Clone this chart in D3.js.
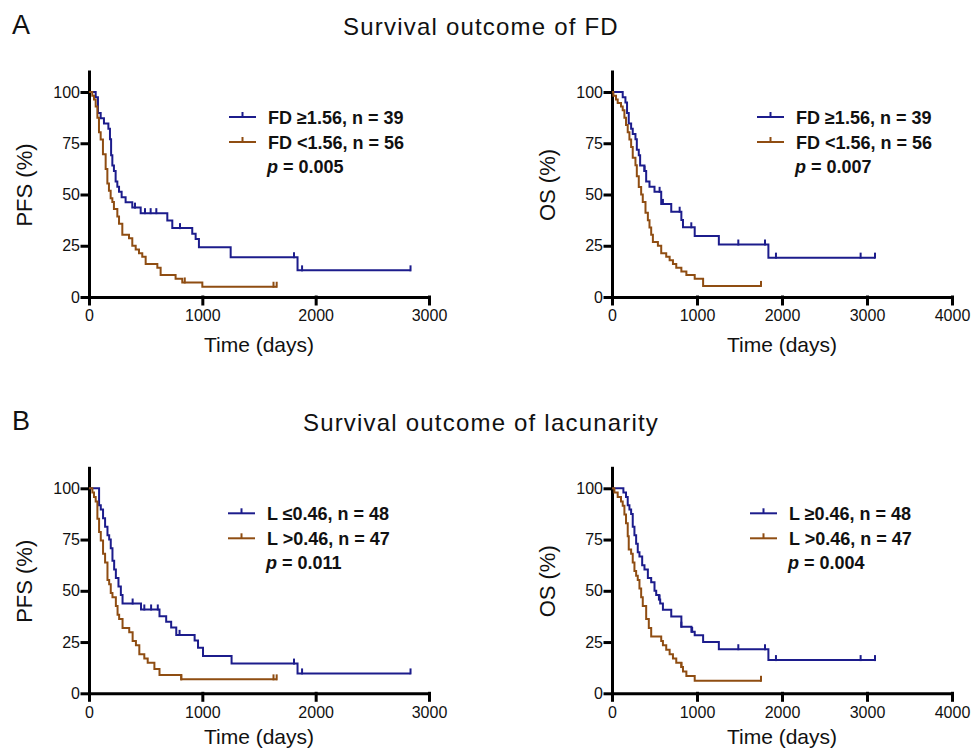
<!DOCTYPE html>
<html lang="en">
<head>
    <meta charset="UTF-8">
    <title>Survival outcome of FD and lacunarity</title>
    <script src="https://d3js.org/d3.v7.min.js"></script>
    <style>
        *{padding:0; margin:0; box-sizing: border-box;}
        body{background:#fff;}
        text{font-family:"Liberation Sans", Arial, Helvetica, sans-serif; fill:#111;}
        .axis path, .axis line{stroke:#000; stroke-width:3; stroke-linecap:square;}
        .axis text{font-size:16px;}
        .km{fill:none; stroke-width:2;}
    </style>
</head>
<body>
<script>
// colours of the two groups
const blue = '#1c1c8c';
const brown = '#8f4d12';

// step points [time (days), survival %]
// panel A, PFS
const pfsFdHigh = [[0,100],[59,97.4],[79,89.7],[103,87.2],[132,84.6],[171,82.1],[185,76.9],[195,69.2],[206,64.1],[220,61.5],[235,56.4],[250,53.8],[265,51.3],[288,48.7],[323,46.2],[382,43.6],[456,40.9],[691,37.3],[735,33.6],[911,30.9],[941,28.3],[970,24.3],[1250,19.4],[1840,13.0]];
const pfsFdHighEnd = 2837;
const pfsFdHighCens = [406,494,544,594,803,1809,1880,2837];
const pfsFdLow = [[0,100],[29,98.2],[44,96.4],[59,92.9],[74,87.5],[88,80.4],[103,76.8],[123,69.6],[147,62.5],[162,55.4],[176,51.8],[191,48.2],[206,46.4],[220,42.9],[250,39.3],[265,35.7],[294,30.4],[353,28.6],[382,25.0],[412,23.2],[441,21.4],[470,19.6],[500,16.1],[603,14.3],[632,10.7],[764,8.9],[823,7.1],[1000,5.0]];
const pfsFdLowEnd = 1656;
const pfsFdLowCens = [845,1628,1656];

// panel A, OS
const osFdHigh = [[0,100],[126,97.4],[158,94.9],[177,89.7],[197,84.6],[225,82.1],[244,79.5],[276,76.9],[292,71.8],[315,69.2],[331,64.1],[382,61.5],[402,56.4],[441,53.8],[500,51.3],[579,45.4],[697,41.6],[816,37.6],[835,34.0],[973,29.8],[1257,25.6],[1840,19.2]];
const osFdHighEnd = 3094;
const osFdHighCens = [382,560,599,796,933,1486,1800,1929,2925,3094];
const osFdLow = [[0,100],[16,98.2],[47,96.4],[67,94.6],[106,92.9],[126,91.1],[146,87.5],[165,83.9],[185,80.4],[205,76.8],[225,73.2],[244,67.9],[276,64.3],[292,58.9],[315,53.6],[343,50.0],[362,46.4],[394,41.1],[422,37.5],[441,33.9],[461,30.4],[481,26.8],[540,25.0],[579,21.4],[638,19.6],[678,17.9],[717,16.1],[756,14.3],[816,12.5],[875,10.7],[973,8.9],[1072,5.4]];
const osFdLowEnd = 1753;
const osFdLowCens = [1753];

// panel B, PFS
const pfsLHigh = [[0,100],[89,91.7],[104,89.6],[124,85.4],[142,81.3],[163,77.1],[178,75.0],[192,70.8],[207,64.6],[222,60.4],[237,56.3],[260,52.1],[281,47.9],[296,43.8],[459,40.9],[622,37.6],[681,34.9],[725,32.1],[770,28.5],[932,25.7],[962,22.2],[1006,18.2],[1258,14.5],[1840,9.7]];
const pfsLHighEnd = 2837;
const pfsLHighCens = [385,488,548,607,799,1809,1880,2837];
const pfsLLow = [[0,100],[30,97.9],[44,95.7],[59,93.6],[74,85.1],[89,78.7],[104,74.5],[124,68.1],[142,63.8],[163,55.3],[178,53.2],[192,48.9],[207,46.8],[237,42.6],[252,38.3],[266,36.2],[296,31.9],[355,29.8],[385,25.5],[414,23.4],[444,19.1],[488,17.0],[518,14.9],[577,11.8],[622,8.9],[814,6.8]];
const pfsLLowEnd = 1656;
const pfsLLowCens = [814,1628,1656];

// panel B, OS
const osLHigh = [[0,100],[134,97.9],[165,95.8],[185,91.7],[205,89.6],[225,87.5],[244,81.3],[264,77.1],[284,72.9],[303,68.8],[323,66.7],[355,62.5],[382,60.4],[422,56.3],[461,54.2],[500,50.0],[520,47.9],[552,45.8],[567,43.8],[599,40.8],[697,37.5],[816,32.5],[934,30.0],[973,28.3],[1072,25.0],[1257,21.5],[1840,16.2]];
const osLHighEnd = 3094;
const osLHighCens = [560,816,943,1486,1800,1929,2925,3094];
const osLLow = [[0,100],[28,97.9],[67,95.7],[106,93.6],[126,91.5],[146,87.2],[165,83.0],[185,76.6],[197,70.2],[225,68.1],[244,63.8],[264,59.6],[284,57.4],[303,55.3],[323,51.1],[343,46.8],[362,42.6],[402,36.2],[433,31.9],[461,27.7],[579,25.5],[599,23.4],[638,21.3],[678,19.1],[717,17.0],[756,14.9],[816,12.8],[835,10.6],[875,8.5],[973,6.1]];
const osLLowEnd = 1753;
const osLLowCens = [816,1753];

// axis ticks
const yTicks = [0,25,50,75,100];
const xTicksPfs = [0,1000,2000,3000];
const xTicksOs = [0,1000,2000,3000,4000];

const titles = ['Survival outcome of FD', 'Survival outcome of lacunarity'];
const panelLetters = ['A', 'B'];

const legendFd = ['FD \u22651.56, n = 39', 'FD <1.56, n = 56'];
const legendLPfs = ['L \u22640.46, n = 48', 'L >0.46, n = 47'];
const legendLOs = ['L \u22650.46, n = 48', 'L >0.46, n = 47'];
const pValues = ['0.005', '0.007', '0.011', '0.004'];

let svg = d3.select('body').append('svg')
    .attr('width', 977).attr('height', 750);

// panel layout (pixels)
const rowTop = [0, 396.3];
const panels = [
    {row:0, x0:89,  xMax:3000, ticks:xTicksPfs, ylab:'PFS (%)', legX:140, labels:legendFd,  p:pValues[0],
     curves:[[pfsFdHigh,pfsFdHighEnd,pfsFdHighCens,blue],[pfsFdLow,pfsFdLowEnd,pfsFdLowCens,brown]]},
    {row:0, x0:612, xMax:4000, ticks:xTicksOs,  ylab:'OS (%)',  legX:145, labels:legendFd,  p:pValues[1],
     curves:[[osFdHigh,osFdHighEnd,osFdHighCens,blue],[osFdLow,osFdLowEnd,osFdLowCens,brown]]},
    {row:1, x0:89,  xMax:3000, ticks:xTicksPfs, ylab:'PFS (%)', legX:139, labels:legendLPfs, p:pValues[2],
     curves:[[pfsLHigh,pfsLHighEnd,pfsLHighCens,blue],[pfsLLow,pfsLLowEnd,pfsLLowCens,brown]]},
    {row:1, x0:612, xMax:4000, ticks:xTicksOs,  ylab:'OS (%)',  legX:138, labels:legendLOs,  p:pValues[3],
     curves:[[osLHigh,osLHighEnd,osLHighCens,blue],[osLLow,osLLowEnd,osLLowCens,brown]]}
];

// row headings
rowTop.forEach(function(dy, i){
    svg.append('text').text(panelLetters[i])
        .attr('x', 12).attr('y', 34 + dy)
        .style('font-size', '27px');
    svg.append('text').text(titles[i])
        .attr('x', 481).attr('y', 35 + dy)
        .attr('text-anchor', 'middle')
        .style('font-size', '24px').style('letter-spacing', '1.2px');
});

// survival % at a given time, from the step table
function survAt(steps, t){
    let s = steps[0][1];
    steps.forEach(function(st){ if (st[0] <= t) s = st[1]; });
    return s;
}

panels.forEach(function(p){
    const dy = rowTop[p.row];
    const x = d3.scaleLinear().domain([0, p.xMax]).range([p.x0, p.x0 + 340]);
    const y = d3.scaleLinear().domain([0, 110]).range([297 + dy, 71.5 + dy]);
    const g = svg.append('g');

    // axes
    g.append('g').attr('class', 'axis')
        .attr('transform', 'translate(0,' + y(0) + ')')
        .call(d3.axisBottom(x).tickValues(p.ticks).tickFormat(d3.format('d'))
            .tickSize(7).tickSizeOuter(0).tickPadding(6));
    g.append('g').attr('class', 'axis')
        .attr('transform', 'translate(' + x(0) + ',0)')
        .call(d3.axisLeft(y).tickValues(yTicks).tickSize(7).tickSizeOuter(0).tickPadding(2));
    g.selectAll('.axis text').attr('font-family', null).attr('fill', '#111').style('font-size', '16px');

    // axis titles
    g.append('text').text('Time (days)')
        .attr('x', x(p.xMax * 0.5)).attr('y', p.row ? 744 : 352)
        .attr('text-anchor', 'middle').style('font-size', '21px');
    g.append('text').text(p.ylab)
        .attr('transform', 'translate(' + (x(0) - 57) + ',' + (185 + dy) + ') rotate(-90)')
        .attr('text-anchor', 'middle').style('font-size', '22px');

    // survival curves with censor ticks
    const line = d3.line().x(d => x(d[0])).y(d => y(d[1])).curve(d3.curveStepAfter);
    p.curves.forEach(function(c){
        const steps = c[0], end = c[1], cens = c[2], col = c[3];
        const pts = steps.concat([[end, steps[steps.length - 1][1]]]);
        g.append('path').attr('class', 'km').attr('stroke', col).attr('d', line(pts));
        g.append('g').selectAll('line').data(cens).enter().append('line')
            .attr('x1', d => x(d)).attr('x2', d => x(d))
            .attr('y1', d => y(survAt(steps, d)) - 5)
            .attr('y2', d => y(survAt(steps, d)) + 1)
            .attr('stroke', col).attr('stroke-width', 2);
    });

    // legend
    const lx = p.x0 + p.legX;
    [blue, brown].forEach(function(col, i){
        const ly = 117 + dy + i * 25;
        g.append('line').attr('x1', lx).attr('x2', lx + 27).attr('y1', ly).attr('y2', ly)
            .attr('stroke', col).attr('stroke-width', 2);
        g.append('line').attr('x1', lx + 13.5).attr('x2', lx + 13.5).attr('y1', ly - 5).attr('y2', ly)
            .attr('stroke', col).attr('stroke-width', 2);
        g.append('text').text(p.labels[i])
            .attr('x', lx + 39).attr('y', ly + 6.5)
            .style('font-size', '18px').style('font-weight', 'bold');
    });
    const pt = g.append('text').attr('x', lx + 38).attr('y', 173 + dy)
        .style('font-size', '18px').style('font-weight', 'bold');
    pt.append('tspan').text('p').style('font-style', 'italic');
    pt.append('tspan').text(' = ' + p.p);
});
</script>
</body>
</html>
